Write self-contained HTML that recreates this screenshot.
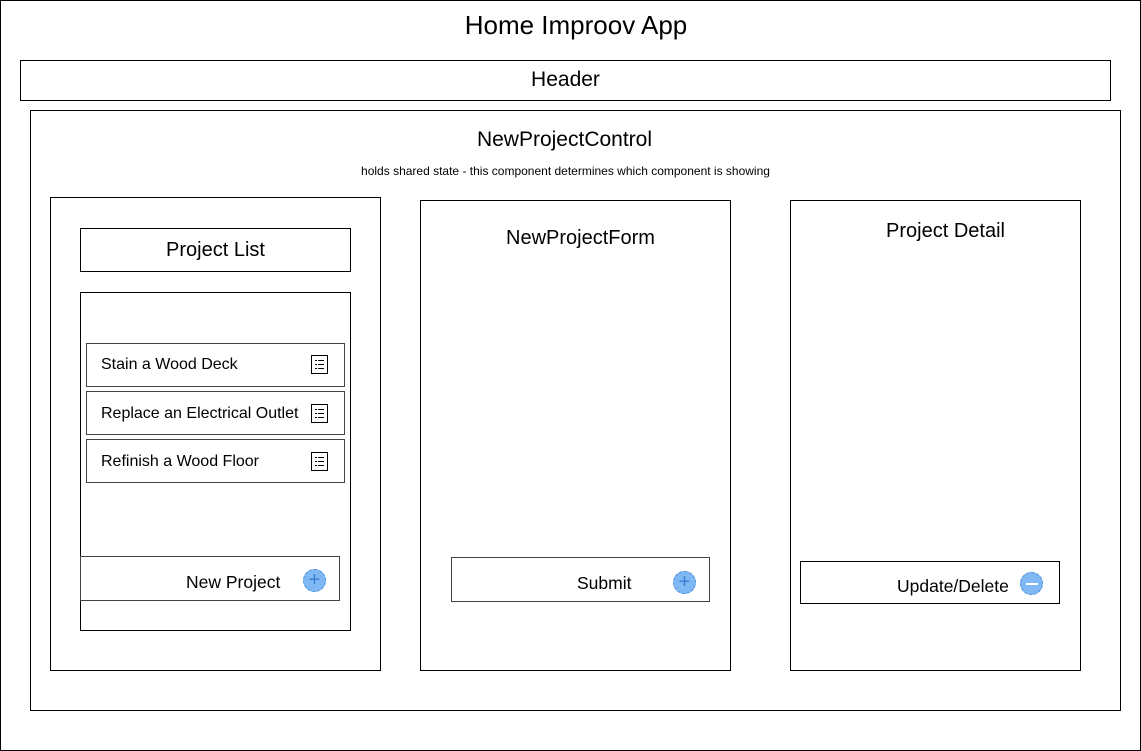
<!DOCTYPE html><html><head><style>
body{margin:0;width:1141px;height:751px;background:#fff;font-family:"Liberation Sans",Arial,sans-serif;position:relative;overflow:hidden}
.b{position:absolute;border:1px solid #000;box-sizing:border-box}
.g{border-color:#444}
.t{position:absolute;white-space:nowrap;color:#000}
.ic{position:absolute;width:17px;height:19px;border:1.5px solid #000;box-sizing:border-box;background:#fff}
.ic i{position:absolute;left:3px;height:1.3px;width:1.5px;background:#000}
.ic b{position:absolute;left:6px;height:1.3px;width:6px;background:#000}
.c{position:absolute;width:23px;height:23px;border-radius:50%;background:#7fb8f5;border:1px dashed #4a8fdc;box-sizing:border-box;color:#3a7fd0;font-size:20px;line-height:20px;text-align:center}
</style></head><body>
<div class="b" style="left:0;top:0;width:1141px;height:751px"></div>
<div class="t" style="left:0;width:1152px;text-align:center;top:10px;font-size:26px">Home Improov App</div>
<div class="b" style="left:20px;top:60px;width:1091px;height:41px"></div>
<div class="t" style="left:20px;width:1091px;text-align:center;top:68px;font-size:21px">Header</div>
<div class="b" style="left:30px;top:110px;width:1091px;height:601px"></div>
<div class="t" style="left:30px;width:1069px;text-align:center;top:128px;font-size:21px">NewProjectControl</div>
<div class="t" style="left:30px;width:1071px;text-align:center;top:164px;font-size:12px">holds shared state - this component determines which component is showing</div>
<div class="b" style="left:50px;top:197px;width:331px;height:474px"></div>
<div class="b" style="left:420px;top:200px;width:311px;height:471px"></div>
<div class="b" style="left:790px;top:200px;width:291px;height:471px"></div>
<div class="b" style="left:80px;top:228px;width:271px;height:44px"></div>
<div class="t" style="left:80px;width:271px;text-align:center;top:239px;font-size:20px">Project List</div>
<div class="b" style="left:80px;top:292px;width:271px;height:339px"></div>
<div class="b g" style="left:86px;top:343px;width:259px;height:44px"></div>
<div class="t" style="left:101px;top:356px;font-size:16px">Stain a Wood Deck</div>
<div class="b g" style="left:86px;top:391px;width:259px;height:44px"></div>
<div class="t" style="left:101px;top:405px;font-size:16px">Replace an Electrical Outlet</div>
<div class="b g" style="left:86px;top:439px;width:259px;height:44px"></div>
<div class="t" style="left:101px;top:453px;font-size:16px">Refinish a Wood Floor</div>
<div class="ic" style="left:311px;top:355px"><i style="top:4px"></i><b style="top:4px"></b><i style="top:8px"></i><b style="top:8px"></b><i style="top:12px"></i><b style="top:12px"></b></div>
<div class="ic" style="left:311px;top:404px"><i style="top:4px"></i><b style="top:4px"></b><i style="top:8px"></i><b style="top:8px"></b><i style="top:12px"></i><b style="top:12px"></b></div>
<div class="ic" style="left:311px;top:452px"><i style="top:4px"></i><b style="top:4px"></b><i style="top:8px"></i><b style="top:8px"></b><i style="top:12px"></i><b style="top:12px"></b></div>
<div class="b g" style="left:80px;top:556px;width:260px;height:45px;background:#fff"></div>
<div class="t" style="left:186px;top:572px;font-size:17.5px">New Project</div>
<div class="c" style="left:303px;top:569px">+</div>
<div class="t" style="left:425px;width:311px;text-align:center;top:227px;font-size:20px">NewProjectForm</div>
<div class="b g" style="left:451px;top:557px;width:259px;height:45px"></div>
<div class="t" style="left:577px;top:573px;font-size:17.5px">Submit</div>
<div class="c" style="left:673px;top:571px">+</div>
<div class="t" style="left:790px;width:311px;text-align:center;top:220px;font-size:20px">Project Detail</div>
<div class="b" style="left:800px;top:561px;width:260px;height:43px"></div>
<div class="t" style="left:897px;top:576px;font-size:17.5px">Update/Delete</div>
<div class="c" style="left:1020px;top:572px"><div style="position:absolute;left:5px;top:10px;width:12px;height:2px;background:#fff"></div></div>
</body></html>
